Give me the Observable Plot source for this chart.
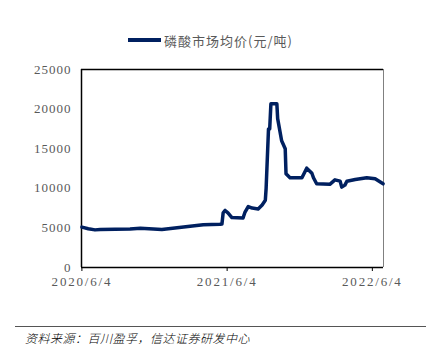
<!DOCTYPE html>
<html><head><meta charset="utf-8">
<script src="https://cdn.jsdelivr.net/npm/d3@7"></script>
<script src="https://cdn.jsdelivr.net/npm/@observablehq/plot@0.6"></script>
<style>
body{margin:0;background:#fff;width:426px;height:349px;position:relative;overflow:hidden}
#chart{position:absolute;left:0;top:0}
#chart text{font-family:'Liberation Serif','Times New Roman',serif}
#chart g[aria-label="y-axis tick label"]{letter-spacing:1px}
#chart g[aria-label="x-axis tick label"]{letter-spacing:1.8px}
#legend{position:absolute;left:128px;top:30px;height:20px;display:flex;align-items:center;font-family:"Noto Sans CJK SC",sans-serif;font-size:13px;color:#595959;letter-spacing:1px}
#legend .sw{width:33px;height:4px;background:#002060;margin-right:3px}
#foot{position:absolute;left:15px;right:0;top:326px;border-top:1px solid #555}
#foot span{position:absolute;left:10px;top:2px;font-family:"Noto Sans CJK SC",sans-serif;font-size:12px;font-style:italic;font-weight:300;color:#000;white-space:nowrap;letter-spacing:0.5px}
</style></head>
<body>
<div id="chart"></div>
<div id="legend"><div class="sw"></div><span>磷酸市场均价(元/吨)</span></div>
<div id="foot"><span>资料来源：百川盈孚，信达证券研发中心</span></div>
<script>
const seriesName = "磷酸市场均价(元/吨)";
const dates = ["2020-06-04","2020-06-20","2020-07-07","2020-07-20","2020-10-03","2020-10-29","2020-12-22","2021-03-03","2021-04-05","2021-05-17","2021-05-22","2021-05-25","2021-05-30","2021-06-06","2021-06-16","2021-07-14","2021-07-19","2021-07-27","2021-08-06","2021-08-21","2021-08-31","2021-09-08","2021-09-10","2021-09-16","2021-09-19","2021-09-22","2021-10-07","2021-10-09","2021-10-19","2021-10-28","2021-10-30","2021-11-09","2021-12-09","2021-12-21","2022-01-03","2022-01-07","2022-01-15","2022-02-17","2022-03-02","2022-03-15","2022-03-19","2022-03-27","2022-04-01","2022-04-22","2022-05-21","2022-06-11","2022-07-01"];
const prices = [5100,4900,4750,4800,4850,4950,4800,5200,5400,5450,5500,6900,7200,6900,6300,6250,7000,7700,7500,7400,7900,8500,10000,17500,17500,20670,20670,18800,16000,15000,11830,11330,11330,12540,11900,11330,10570,10500,11070,10900,10150,10400,10900,11100,11330,11200,10570];
const yTicks = [0,5000,10000,15000,20000,25000];
const xTicks = ["2020-06-04","2021-06-04","2022-06-04"];

const parse = d3.utcParse("%Y-%m-%d");
const data = dates.map((d,i)=>({date:parse(d), price:prices[i]}));
const xt = xTicks.map(parse);
const x0 = parse("2020-06-03"), x1 = parse("2022-07-02");
const fmt = d => `${d.getUTCFullYear()}/${d.getUTCMonth()+1}/${d.getUTCDate()}`;
const serif = "'Liberation Serif', 'Times New Roman', serif";

const chart = Plot.plot({
  width: 426, height: 310,
  marginTop: 69, marginBottom: 43, marginLeft: 81, marginRight: 43,
  style: {fontFamily: serif, fontSize: "13px", color: "#595959", background: "#fff"},
  x: {type: "utc", domain: [x0, x1], label: null},
  y: {domain: [0, 25000], label: null},
  marks: [
    Plot.axisY({ticks: yTicks, tickFormat: d => String(d), tickSize: 0, tickPadding: 10, label: null, fontFamily: serif, fontSize: 13, fill: "#595959"}),
    Plot.axisX({ticks: xt, tickFormat: fmt, tickSize: 4, tickPadding: 5, label: null, stroke: "#000", fontFamily: serif, fill: "#595959", fontSize: 13}),
    Plot.ruleX([x1], {stroke: "#808080", strokeWidth: 1}),
    Plot.ruleY([25000], {stroke: "#000", strokeWidth: 1.3}),
    Plot.ruleY([0], {stroke: "#000", strokeWidth: 1.5}),
    Plot.ruleX([x0], {stroke: "#000", strokeWidth: 1.5}),
    Plot.line(data, {x: "date", y: "price", stroke: "#002060", strokeWidth: 3.5, strokeLinejoin: "round", strokeLinecap: "round"})
  ]
});
document.getElementById("chart").appendChild(chart);
</script>
</body></html>
